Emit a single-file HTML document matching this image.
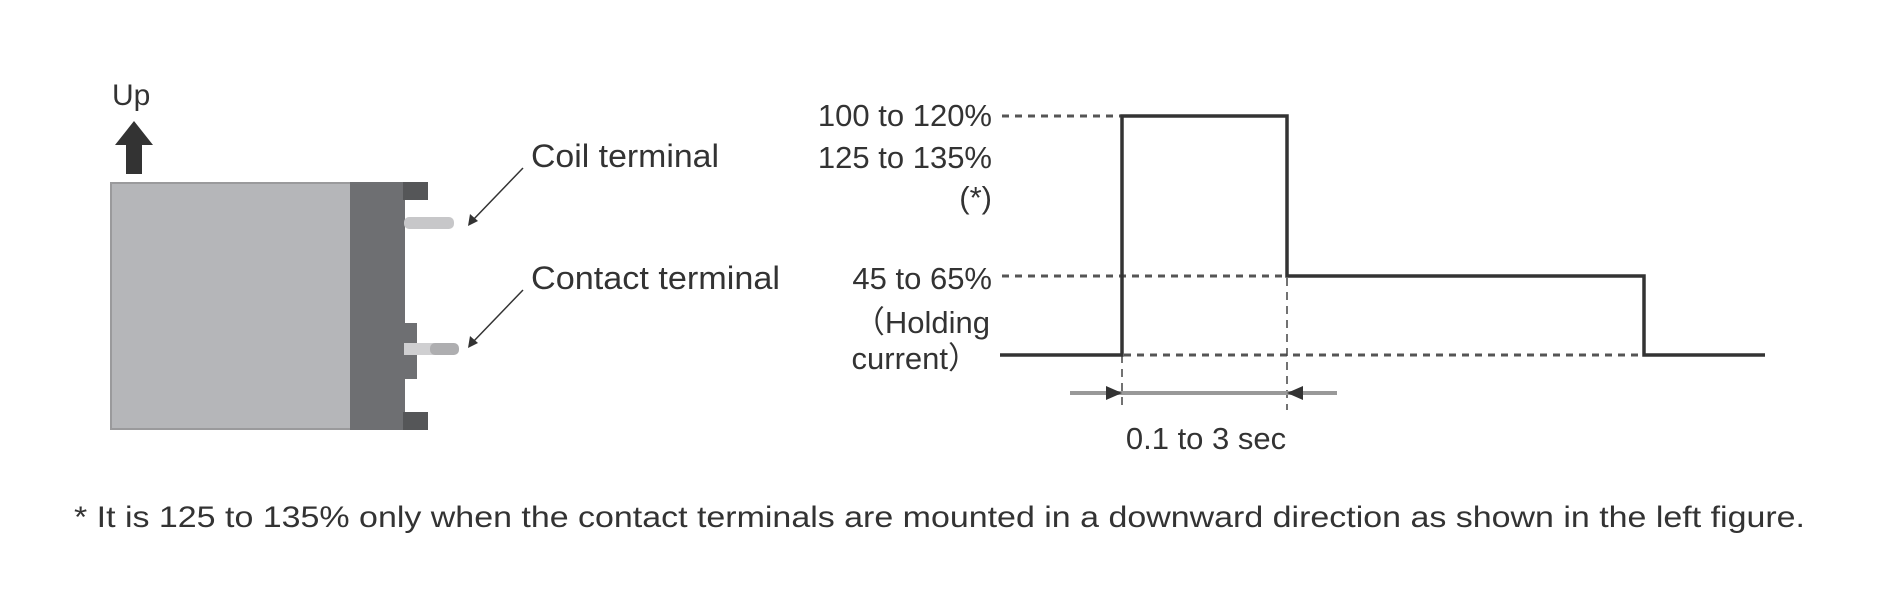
<!DOCTYPE html>
<html><head><meta charset="utf-8"><style>
html,body{margin:0;padding:0;background:#fff;}
svg{display:block}
text{font-family:"Liberation Sans",sans-serif;fill:#333;}
</style></head><body>
<svg width="1878" height="606" viewBox="0 0 1878 606" xmlns="http://www.w3.org/2000/svg">
<!-- Up arrow -->
<text x="112" y="105" font-size="30">Up</text>
<polygon points="134,121 115,145 126,145 126,174 142,174 142,145 153,145" fill="#333"/>
<!-- relay body -->
<rect x="111" y="183" width="240" height="246" fill="#b5b6b9" stroke="#9a9a9c" stroke-width="2"/>
<rect x="350" y="182" width="55" height="248" fill="#6e6f72"/>
<rect x="403" y="182" width="25" height="18" fill="#555658"/>
<rect x="403" y="412" width="25" height="18" fill="#555658"/>
<rect x="404" y="217" width="50" height="12" rx="5" fill="#c7c7c9"/>
<rect x="403" y="323" width="14" height="56" fill="#6e6f72"/>
<rect x="404" y="343" width="42" height="12" fill="#cfcfd1"/>
<rect x="430" y="343" width="29" height="12" rx="5" fill="#aeaeb0"/>
<!-- leader arrows -->
<line x1="523" y1="168" x2="472" y2="221" stroke="#333" stroke-width="1.5"/>
<polygon points="468,226 470,214 478,221" fill="#333"/>
<line x1="523" y1="290" x2="472" y2="343" stroke="#333" stroke-width="1.5"/>
<polygon points="468,348 470,336 478,343" fill="#333"/>
<text x="531" y="167" font-size="32" textLength="188" lengthAdjust="spacingAndGlyphs">Coil terminal</text>
<text x="531" y="289" font-size="32" textLength="249" lengthAdjust="spacingAndGlyphs">Contact terminal</text>
<!-- chart labels -->
<g font-size="31" text-anchor="end">
<text x="992" y="126">100 to 120%</text>
<text x="992" y="168">125 to 135%</text>
<text x="992" y="208">(*)</text>
<text x="992" y="289">45 to 65%</text>
<text x="990" y="333">（Holding</text>
<text x="979" y="369">current）</text>
</g>
<!-- dotted lines -->
<g stroke="#555" stroke-width="3" stroke-dasharray="7,6">
<line x1="1002" y1="116" x2="1122" y2="116"/>
<line x1="1002" y1="276" x2="1287" y2="276"/>
<line x1="1124" y1="355" x2="1644" y2="355"/>
</g>
<g stroke="#444" stroke-width="1.5" stroke-dasharray="8,6">
<line x1="1122" y1="355" x2="1122" y2="410"/>
<line x1="1287" y1="278" x2="1287" y2="410"/>
</g>
<!-- pulse -->
<polyline points="1000,355 1122,355 1122,116 1287,116 1287,276 1644,276 1644,355 1765,355" fill="none" stroke="#333" stroke-width="3.5"/>
<!-- dimension -->
<line x1="1070" y1="393" x2="1337" y2="393" stroke="#999" stroke-width="4"/>
<polygon points="1122,393 1106,386 1106,400" fill="#333"/>
<polygon points="1287,393 1303,386 1303,400" fill="#333"/>
<text x="1206" y="449" font-size="31" text-anchor="middle">0.1 to 3 sec</text>
<!-- footnote -->
<text x="74" y="527" font-size="30" textLength="1731" lengthAdjust="spacingAndGlyphs">* It is 125 to 135% only when the contact terminals are mounted in a downward direction as shown in the left figure.</text>
</svg>
</body></html>
